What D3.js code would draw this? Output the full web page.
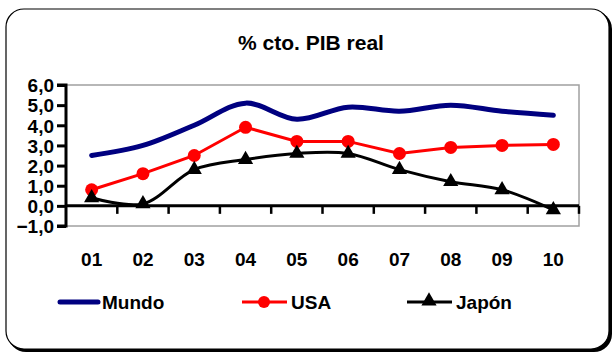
<!DOCTYPE html>
<html><head><meta charset="utf-8">
<script src="https://cdn.jsdelivr.net/npm/d3@7"></script>
<style>body{margin:0;background:#fff}svg{display:block}text{font-family:Arial,"Liberation Sans",sans-serif;font-weight:bold;fill:#000}</style>
</head><body>
<script>
const categories = ["01","02","03","04","05","06","07","08","09","10"];
const mundo = [2.5,3.0,4.0,5.1,4.3,4.9,4.7,5.0,4.7,4.5];
const usa = [0.8,1.6,2.5,3.9,3.2,3.2,2.6,2.9,3.0,3.05];
const japon = [0.4,0.1,1.8,2.3,2.6,2.6,1.8,1.2,0.8,-0.2];
const yTicks = [-1,0,1,2,3,4,5,6];

const W=615,H=354;
const FONT="Arial,'Liberation Sans',sans-serif";
const svg=d3.select("body").append("svg").attr("width",W).attr("height",H);
// frame with shadow
svg.append("rect").attr("x",8).attr("y",11).attr("width",604).attr("height",341).attr("rx",18).attr("fill","#000");
svg.append("rect").attr("x",6).attr("y",9).attr("width",603).attr("height",340).attr("rx",18).attr("fill","#fff").attr("stroke","#000").attr("stroke-width",1.2);

svg.append("text").attr("x",311).attr("y",50).attr("text-anchor","middle").style("font-size","21px").text("% cto. PIB real");

const x0=66,x1=579,yTop=85,yBot=226;
const x=d3.scaleBand().domain(categories).range([x0,x1]);
const y=d3.scaleLinear().domain([-1,6]).range([yBot,yTop]);
const cx=c=>x(c)+x.bandwidth()/2;

// plot area border (gray)
svg.append("rect").attr("x",x0).attr("y",y(6)).attr("width",x1-x0).attr("height",y(-1)-y(6)).attr("fill","none").attr("stroke","#a0a0a0").attr("stroke-width",1.5);

// y axis
const yAx=svg.append("g").attr("transform",`translate(${x0},0)`).call(d3.axisLeft(y).tickValues(yTicks).tickSize(9).tickFormat(d=>d3.format(".1f")(d).replace(".",",")));
yAx.select(".domain").attr("stroke","#000").attr("stroke-width",3);
yAx.selectAll(".tick line").attr("stroke","#000").attr("stroke-width",3);
yAx.selectAll("text").style("font-size","19px").attr("x",-12).attr("dy","0.36em").style("font-family",FONT).style("font-weight","bold");
yAx.select(".domain").attr("d",`M-9,${y(6)}H0V${y(-1)}H-9`);

// x axis at zero
const xAx=svg.append("g").attr("transform",`translate(0,${y(0)})`);
xAx.append("line").attr("x1",x0).attr("x2",x1).attr("y1",0).attr("y2",0).attr("stroke","#000").attr("stroke-width",3);
xAx.selectAll("line.t").data(categories.slice(1).concat(["end"])).join("line").attr("class","t")
  .attr("x1",(d,i)=>x0+(i+1)*x.bandwidth()).attr("x2",(d,i)=>x0+(i+1)*x.bandwidth()).attr("y1",0).attr("y2",8).attr("stroke","#000").attr("stroke-width",2.5);
svg.append("g").selectAll("text").data(categories).join("text").attr("x",cx).attr("y",266).attr("text-anchor","middle").style("font-size","19px").text(d=>d);

function line(data,curve){return d3.line().x((d,i)=>cx(categories[i])).y(d=>y(d)).curve(curve)(data);}
svg.append("path").attr("d",line(mundo,d3.curveCatmullRom.alpha(0.5))).attr("fill","none").attr("stroke","#000080").attr("stroke-width",5).attr("stroke-linecap","round");
svg.append("path").attr("d",line(usa,d3.curveLinear)).attr("fill","none").attr("stroke","#ff0000").attr("stroke-width",3);
svg.append("g").selectAll("circle").data(usa).join("circle").attr("cx",(d,i)=>cx(categories[i])).attr("cy",d=>y(d)).attr("r",6.5).attr("fill","#ff0000");
svg.append("path").attr("d",line(japon,d3.curveCatmullRom.alpha(0.5))).attr("fill","none").attr("stroke","#000").attr("stroke-width",3);
const tri=d3.symbol().type(d3.symbolTriangle).size(100);
svg.append("g").selectAll("path").data(japon).join("path").attr("d",tri).attr("transform",(d,i)=>`translate(${cx(categories[i])},${y(d)})`).attr("fill","#000");

// legend
const ly=302;
svg.append("line").attr("x1",60).attr("x2",98).attr("y1",ly).attr("y2",ly).attr("stroke","#000080").attr("stroke-width",5).attr("stroke-linecap","round");
svg.append("text").attr("x",102).attr("y",ly+7).style("font-size","19px").text("Mundo");
svg.append("line").attr("x1",242).attr("x2",287).attr("y1",ly).attr("y2",ly).attr("stroke","#ff0000").attr("stroke-width",3);
svg.append("circle").attr("cx",264).attr("cy",ly).attr("r",6).attr("fill","#ff0000");
svg.append("text").attr("x",291).attr("y",ly+7).style("font-size","19px").text("USA");
svg.append("line").attr("x1",407).attr("x2",452).attr("y1",ly).attr("y2",ly).attr("stroke","#000").attr("stroke-width",3);
svg.append("path").attr("d",tri).attr("transform",`translate(429,${ly-1})`).attr("fill","#000");
svg.append("text").attr("x",456).attr("y",ly+7).style("font-size","19px").text("Japón");
</script>
</body></html>
